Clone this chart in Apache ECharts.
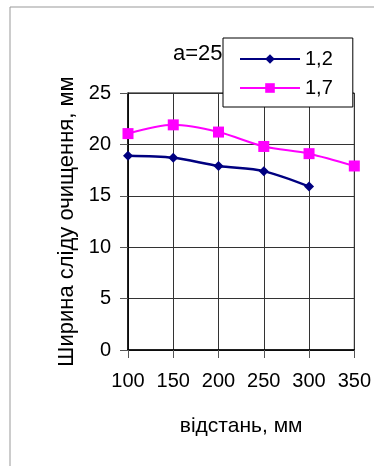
<!DOCTYPE html>
<html><head><meta charset="utf-8">
<script src="https://cdn.jsdelivr.net/npm/echarts@6/dist/echarts.min.js"></script>
<style>html,body{margin:0;padding:0;background:#fff}#c{width:374px;height:466px}</style>
</head><body><div id="c"></div>
<script>
const distances = [100, 150, 200, 250, 300, 350];
const series12 = [18.9, 18.7, 17.9, 17.4, 15.9, null];
const series17 = [21.05, 21.9, 21.2, 19.8, 19.1, 17.9];
const seriesNames = ['1,2', '1,7'];
const yTicks = [0, 5, 10, 15, 20, 25];
const titleText = 'a=25';
const xName = 'відстань, мм';
const yName = 'Ширина сліду очищення, мм';

const font = 'Liberation Sans, Arial, sans-serif';
const chart = echarts.init(document.getElementById('c'));
const pair = arr => distances.map((d, i) => [d, arr[i]]).filter(p => p[1] != null);
chart.setOption({
  animation: false,
  graphic: [{type:'rect', shape:{x:10, y:7, width:420, height:520}, style:{fill:'none', stroke:'#999', lineWidth:1}, z:0}],
  title: {text: titleText, left: 168, top: 38, z: 1,
    textStyle: {fontFamily: font, fontSize: 22, fontWeight: 'normal', color: '#000'}},
  legend: {
    orient: 'vertical', left: 223, top: 38, z: 10,
    padding: [11, 20, 9, 16], itemGap: 9,
    backgroundColor: '#fff', borderColor: '#000', borderWidth: 1, borderRadius: 0,
    itemWidth: 60, itemHeight: 12,
    textStyle: {fontFamily: font, fontSize: 20, color: '#000'},
    data: seriesNames
  },
  grid: {left: 128, right: 19, top: 93, bottom: 116, show: true, borderColor: '#000', borderWidth: 1},
  xAxis: {
    type: 'value', min: 100, max: 350, interval: 50,
    name: xName, nameLocation: 'middle', nameGap: 66,
    nameTextStyle: {fontFamily: font, fontSize: 21, color: '#000'},
    axisLine: {lineStyle: {color: '#000', width: 1.5}},
    axisTick: {show: true, length: 8, lineStyle: {color: '#555'}},
    axisLabel: {fontFamily: font, fontSize: 20, color: '#000', margin: 21},
    splitLine: {show: true, lineStyle: {color: '#333', width: 1}}
  },
  yAxis: {
    type: 'value', min: 0, max: 25, interval: 5,
    name: yName, nameLocation: 'middle', nameGap: 50,
    nameTextStyle: {fontFamily: font, fontSize: 22, color: '#000'},
    axisLine: {show: true, lineStyle: {color: '#000', width: 1.5}},
    axisTick: {show: true, length: 8, lineStyle: {color: '#555'}},
    axisLabel: {fontFamily: font, fontSize: 20, color: '#000', margin: 17},
    splitLine: {show: true, lineStyle: {color: '#333', width: 1}}
  },
  series: [
    {name: seriesNames[0], type: 'line', smooth: 0.3, data: pair(series12),
     symbol: 'diamond', symbolSize: 10,
     lineStyle: {color: '#000080', width: 2.5}, itemStyle: {color: '#000080'}},
    {name: seriesNames[1], type: 'line', smooth: 0.3, data: pair(series17),
     symbol: 'rect', symbolSize: 11,
     lineStyle: {color: '#FF00FF', width: 2}, itemStyle: {color: '#FF00FF'}}
  ]
});
</script></body></html>
